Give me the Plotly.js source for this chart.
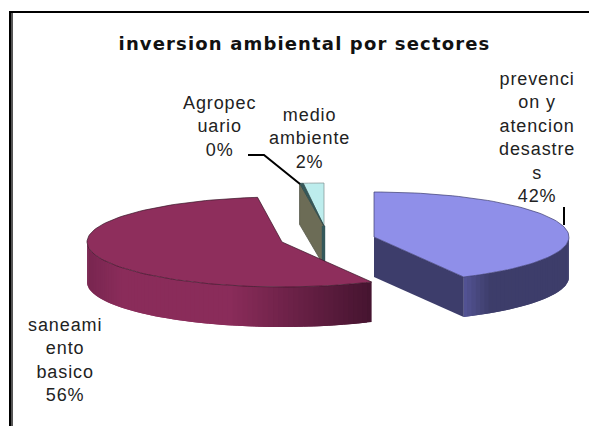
<!DOCTYPE html>
<html><head><meta charset="utf-8">
<script src="https://cdn.plot.ly/plotly-3.0.1.min.js"></script>
<style>
html,body{margin:0;padding:0;background:#fff;overflow:hidden}
#chart{width:589px;height:426px}
.gtitle{letter-spacing:1.15px}
.annotation-text{letter-spacing:0.9px}
</style></head><body><div id="chart"></div>
<script>
const categories = ["prevencion y atencion desastres","saneamiento basico","Agropecuario","medio ambiente"];
const values = [42.4, 55.6, 0.3, 1.7];
const pctLabels = ["42%","56%","0%","2%"];
const wrappedNames = ["prevenci<br>on y<br>atencion<br>desastre<br>s","saneami<br>ento<br>basico","Agropec<br>uario","medio<br>ambiente"];

const RX = 195, RY = 45, DEPTH = 40;
const toAngle = v => v / 100 * 360;
const pt = (c, a, dy = 0, ry = RY) => [c[0] + RX * Math.sin(a * Math.PI / 180), c[1] - ry * Math.cos(a * Math.PI / 180) + dy];
const centers = [[374, 237], [282, 242], [324, 226], [324, 226]];
const mix = (a, b, t) => { t = Math.max(0, Math.min(1, t)); return "rgb(" + a.map((v, i) => Math.round(v + (b[i] - v) * t)).join(",") + ")"; };
const traces = [];
function poly(points, fill, line, w) {
  traces.push({type: "scatter", mode: "lines", x: points.map(p => p[0]), y: points.map(p => p[1]), fill: "toself",
    fillcolor: fill, line: {color: line || fill, width: w === undefined ? 0 : w}, hoverinfo: "skip", showlegend: false});
}
function arc(c, a0, a1, ry) {
  const n = Math.max(2, Math.ceil(Math.abs(a1 - a0) / 2)), out = [];
  for (let i = 0; i <= n; i++) out.push(pt(c, a0 + (a1 - a0) * i / n, 0, ry));
  return out;
}
function topFace(c, a0, a1, fill, line, ry) {
  poly([c].concat(arc(c, a0, a1, ry)).concat([c]), fill, line, 0.7);
}
// side of a slice, painted in overlapping strips so no seam shows
function strips(c, a0, a1, colorAt) {
  const step = 1.5;
  for (let a = a0; a < a1 - 1e-6; a += step) {
    const b = Math.min(a + step * 2, a1), m = Math.min(a + step / 2, a1);
    const pts = [];
    const n = Math.ceil((b - a) / 0.5);
    for (let i = 0; i <= n; i++) pts.push(pt(c, a + (b - a) * i / n));
    for (let i = n; i >= 0; i--) pts.push(pt(c, a + (b - a) * i / n, DEPTH));
    pts.push(pts[0]);
    poly(pts, colorAt(pt(c, m)[0]));
  }
}
const a1 = toAngle(values[0]);
const a2 = a1 + toAngle(values[1]);
const a3 = a2 + toAngle(values[2]);
const a4 = a3 + toAngle(values[3]);

// medio ambiente + Agropecuario
const cM = centers[3], RYM = 43;
topFace(cM, a3, a4, "#bdeded", "#7f8f8f", RYM);
const o0 = pt(cM, a2, 0, RYM);
poly([cM, o0, [o0[0], o0[1] + DEPTH + 1], [cM[0], cM[1] + DEPTH], cM], "#6c6c56", "#55584a", 0.8);
topFace(centers[2], a2, a3, "#35595a", "#2c4a4a", RYM);
poly([[cM[0] - 2, cM[1]], [cM[0] + 1, cM[1]], [cM[0] + 1, cM[1] + DEPTH], [cM[0] - 2, cM[1] + DEPTH], [cM[0] - 2, cM[1]]], "#35595a", "#35595a", 0.4);

// saneamiento basico
const cS = centers[1];
strips(cS, a1, 270, x => x > 230 ? mix([138, 44, 90], [70, 20, 48], (x - 230) / 140) : mix([120, 38, 80], [138, 44, 90], (x - 87) / 35));
topFace(cS, a1, a2, "#8e2e5c", "#3a1528");

// prevencion
const cP = centers[0], p1 = pt(cP, a1);
strips(cP, 90, a1, x => mix([61, 61, 106], [84, 84, 150], (490 - x) / 27));
poly([cP, p1, [p1[0], p1[1] + DEPTH], [cP[0], cP[1] + DEPTH], cP], "#3d3d6b");
topFace(cP, 0, a1, "#8f8fe9", "#3c3c70");

// leader lines
const leader = (xs, ys) => traces.push({type: "scatter", mode: "lines", x: xs, y: ys, line: {color: "#000", width: 2}, hoverinfo: "skip", showlegend: false});
leader([248, 264, 300], [155, 155, 184]);
leader([564, 564], [207, 225]);

const font = {family: "Liberation Sans, Arial, sans-serif", size: 18, color: "#222"};
const labelAt = [[537, 137], [65, 360], [219, 126], [309, 138]];
const annotations = categories.map((c, i) => ({
  x: labelAt[i][0], y: labelAt[i][1], xref: "x", yref: "y", showarrow: false, align: "center",
  text: wrappedNames[i] + "<br>" + pctLabels[i], font
}));

const layout = {
  width: 589, height: 426, margin: {l: 0, r: 0, t: 0, b: 0},
  paper_bgcolor: "#fff", plot_bgcolor: "#fff", showlegend: false,
  title: {text: "inversion ambiental por sectores", x: 304.5 / 589, xanchor: "center", y: 1 - 44 / 426, yanchor: "middle",
    font: {family: "DejaVu Sans, sans-serif", size: 18, color: "#111", weight: 700}},
  xaxis: {range: [0, 589], visible: false, fixedrange: true},
  yaxis: {range: [426, 0], visible: false, fixedrange: true},
  annotations,
  shapes: [
    {type: "rect", xref: "x", yref: "y", x0: 9, x1: 11, y0: 11, y1: 426, fillcolor: "#000", line: {width: 0}},
    {type: "rect", xref: "x", yref: "y", x0: 11, x1: 13, y0: 13, y1: 426, fillcolor: "#555", line: {width: 0}},
    {type: "rect", xref: "x", yref: "y", x0: 9, x1: 589, y0: 11, y1: 13, fillcolor: "#000", line: {width: 0}}
  ]
};
Plotly.newPlot("chart", traces, layout, {displayModeBar: false, staticPlot: true});
</script></body></html>
